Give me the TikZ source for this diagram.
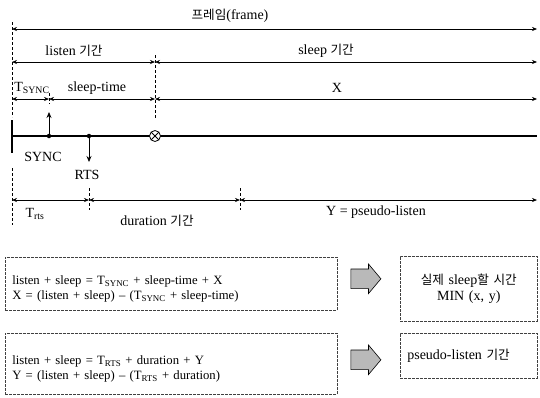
\documentclass[tikz,border=0pt]{standalone}
\usepackage{fontspec}
\setmainfont{Liberation Serif}
\newfontfamily\kr[Scale=0.9]{Noto Sans CJK KR}
\usepackage{tikz}
\usetikzlibrary{arrows.meta, positioning, shapes.arrows}
\newcommand{\eqstrut}{\rule{0pt}{19pt}}

\begin{document}
\begin{tikzpicture}[
    x=1pt, y=-1pt,
    font=\fontsize{14}{16.5}\selectfont,
    dim/.style={{Stealth[length=5pt,width=4pt]}-{Stealth[length=5pt,width=4pt]}, line width=0.6pt},
    guide/.style={densely dashed, line width=0.6pt},
    timeline/.style={line width=1.4pt},
    dot/.style={circle, fill, inner sep=0pt, minimum size=4.5pt},
    xmark/.style={circle, draw, fill=white, line width=0.8pt, inner sep=0pt, minimum size=11pt,
                  path picture={\draw[line width=0.8pt]
                    (path picture bounding box.north west) -- (path picture bounding box.south east)
                    (path picture bounding box.north east) -- (path picture bounding box.south west);}},
    eqbox/.style={rectangle, draw=black!75, dash pattern=on 3pt off 1pt, line width=0.6pt,
                  anchor=north west, align=left, inner sep=7pt},
    eqtext/.style={eqbox, text width=318pt, font=\fontsize{12.7}{15.5}\selectfont},
    resbox/.style={eqbox, align=center},
    blockarr/.style={single arrow, draw, fill=gray!55, line width=0.6pt, minimum height=30pt,
                     inner xsep=0pt, inner ysep=9.5pt, single arrow head extend=5pt,
                     single arrow tip angle=100},
    arr/.style={-{Stealth[length=6pt,width=5pt]}, line width=0.8pt},
  ]
    \useasboundingbox (0,0) rectangle (540,397);

    % Ticks and rows
    \coordinate (x0) at (12,0);
    \coordinate (xs) at (49,0);
    \coordinate (xr) at (89,0);
    \coordinate (xl) at (155,0);
    \coordinate (xd) at (240,0);
    \coordinate (xe) at (537,0);
    \coordinate (yF) at (0,29);
    \coordinate (yL) at (0,62);
    \coordinate (yT) at (0,99);
    \coordinate (yM) at (0,136);
    \coordinate (yR) at (0,200);

    % Frame / listen / sleep
    \node (frame) at (230,16) {{\kr 프레임}(frame)};
    \draw[dim] (x0 |- yF) -- (xe |- yF);
    \node (listen) at (74,51) {listen {\kr 기간}};
    \node (sleep) at (326,51) {sleep {\kr 기간}};
    \draw[dim] (x0 |- yL) -- (xl |- yL);
    \draw[dim] (xl |- yL) -- (xe |- yL);
    \node (tsyn) at (32,88) {T\textsubscript{SYNC}};
    \node (stime) at (97,88) {sleep-time};
    \node (xlbl) at (337,88) {X};
    \draw[dim] (x0 |- yT) -- (xs |- yT);
    \draw[dim] (xs |- yT) -- (xl |- yT);
    \draw[dim] (xl |- yT) -- (xe |- yT);

    % Guides
    \draw[guide] (x0 |- yF) ++(0,-7) -- ++(0,95);
    \draw[guide] (xl |- yL) ++(0,-7) -- ++(0,63);
    \draw[guide] (xs |- yT) ++(0,-6) -- ++(0,11);

    % Timeline
    \draw[timeline] (x0 |- yM) -- (xe |- yM);
    \draw[timeline] (x0 |- yM) ++(0,-16) -- ++(0,33);
    \node[dot] (sync) at (xs |- yM) {};
    \node[dot] (rts) at (xr |- yM) {};
    \node[xmark] (miss) at (xl |- yM) {};
    \coordinate (syncup) at (49,112);
    \coordinate (rtsdown) at (89,162);
    \draw[arr] (sync) -- (syncup);
    \draw[arr] (rts) -- (rtsdown);
    \node (synclbl) at (43,157) {SYNC};
    \node (rtslbl) at (87,175) {RTS};

    % RTS row
    \draw[guide] (x0 |- yR) ++(0,-32) -- ++(0,57);
    \draw[guide] (xr |- yR) ++(0,-12) -- ++(0,22);
    \draw[guide] (xd |- yR) ++(0,-12) -- ++(0,22);
    \draw[dim] (x0 |- yR) -- (xr |- yR);
    \draw[dim] (xr |- yR) -- (xd |- yR);
    \draw[dim] (xd |- yR) -- (xe |- yR);
    \node (trts) at (35,214) {T\textsubscript{rts}};
    \node (dur) at (157,221) {duration {\kr 기간}};
    \node (ylbl) at (376,212) {Y = pseudo-listen};

    % Equations
    \node[eqtext, minimum height=53pt] (eq1) at (5,257)
      {\eqstrut listen + sleep = T\textsubscript{SYNC} + sleep-time + X\\
       X = (listen + sleep) -- (T\textsubscript{SYNC} + sleep-time)};
    \node[eqtext, minimum height=61pt] (eq2) at (5,333)
      {\eqstrut listen + sleep = T\textsubscript{RTS} + duration + Y\\
       Y = (listen + sleep) -- (T\textsubscript{RTS} + duration)};

    % Results
    \node[blockarr, right=13pt of eq1, yshift=5pt] (ar1) {};
    \node[blockarr, right=13pt of eq2, yshift=4pt] (ar2) {};
    \node[resbox, text width=123pt, minimum height=65pt] (res1) at (400,256)
      {{\kr 실제} sleep{\kr 할 시간}\\MIN (x, y)};
    \node[eqbox, text width=123pt, minimum height=45pt] (res2) at (400,333)
      {pseudo-listen {\kr 기간}};
  \end{tikzpicture}
\end{document}
